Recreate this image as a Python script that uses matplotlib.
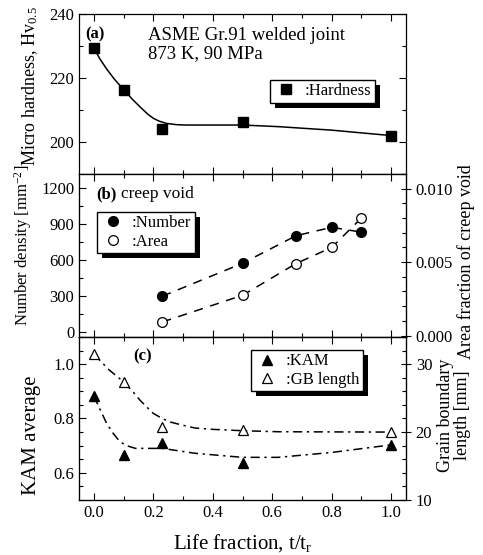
import numpy as np
import matplotlib
matplotlib.use('Agg')
import matplotlib.pyplot as plt
from matplotlib.ticker import MultipleLocator, FormatStrFormatter
from matplotlib.patches import Rectangle

plt.rcParams['font.family'] = 'Liberation Serif'
plt.rcParams['mathtext.fontset'] = 'custom'
plt.rcParams['mathtext.rm'] = 'Liberation Serif'
plt.rcParams['mathtext.it'] = 'Liberation Serif:italic'

# (a) hardness
hard_x = [0.0, 0.1, 0.23, 0.5, 1.0]
hard_y = [229.4, 216.3, 204.0, 206.2, 201.9]
hard_fit_x = [0.0, 0.02, 0.043, 0.07, 0.10, 0.13, 0.155, 0.18, 0.20, 0.22, 0.244, 0.28,
              0.31, 0.40, 0.50, 0.62, 0.80, 1.0]
hard_fit_y = [229.4, 226.0, 222.8, 219.5, 216.4, 213.3, 211.0, 208.8, 207.4, 206.5, 205.8,
              205.4, 205.3, 205.3, 205.3, 204.8, 203.7, 202.0]

# (b) creep void
void_x = [0.23, 0.5, 0.68, 0.8, 0.9]
number = [300, 575, 805, 875, 835]
area = [0.00092, 0.00274, 0.0049, 0.0060, 0.0080]

# (c) KAM and GB length
kam_x = [0.0, 0.1, 0.23, 0.5, 1.0]
kam = [0.883, 0.666, 0.709, 0.636, 0.703]
gb = [31.5, 27.4, 20.7, 20.3, 20.0]
kam_fit_x = [0.0, 0.02, 0.043, 0.065, 0.087, 0.11, 0.14, 0.23, 0.34, 0.5, 0.62, 0.8, 1.0]
kam_fit_y = [0.883, 0.835, 0.782, 0.745, 0.715, 0.70, 0.69, 0.69, 0.672, 0.657, 0.657,
             0.675, 0.703]
gb_fit_x = [0.0, 0.05, 0.1, 0.13, 0.155, 0.18, 0.2, 0.23, 0.255, 0.3, 0.34, 0.4, 0.5,
            0.62, 1.0]
gb_fit_y = [31.5, 29.2, 27.4, 26.0, 24.7, 23.6, 22.75, 22.0, 21.5, 21.0, 20.6, 20.4,
            20.2, 20.05, 20.0]

fig = plt.figure(figsize=(4.83, 5.55), dpi=100)
gs = fig.add_gridspec(3, 1, left=0.1636, right=0.8406, top=0.9748, bottom=0.0991,
                      hspace=0, height_ratios=[160, 163, 163])
ax1 = fig.add_subplot(gs[0])
ax2 = fig.add_subplot(gs[1], sharex=ax1)
ax3 = fig.add_subplot(gs[2], sharex=ax1)

fs_tick = 12
fs_lab = 13
fs_leg = 12
dashdot = (0, (6, 3, 1.5, 3))


def style(ax, right=True):
    ax.tick_params(which='both', direction='in', top=True, right=right, labelsize=fs_tick,
                   width=0.8)
    ax.tick_params(which='major', length=5)
    ax.tick_params(which='minor', length=3)
    for s in ax.spines.values():
        s.set_linewidth(0.9)


def style_right(ax):
    ax.tick_params(which='both', direction='in', labelsize=fs_tick, width=0.8)
    ax.tick_params(which='major', direction='inout', length=7)
    ax.tick_params(which='minor', length=3)


leg_kw = dict(fontsize=fs_leg, handletextpad=0.4, handlelength=1.5, borderpad=0.2,
              labelspacing=0.15, borderaxespad=0, fancybox=False, edgecolor='black',
              framealpha=1, loc='upper left')

# (a)
ax1.plot(hard_fit_x, hard_fit_y, '-', color='black', lw=1.1)
ax1.plot(hard_x, hard_y, 's', color='black', ms=6.5, label=':Hardness')
ax1.set_ylim(190, 240)
ax1.yaxis.set_major_locator(MultipleLocator(20))
ax1.yaxis.set_minor_locator(MultipleLocator(10))
ax1.set_ylabel('Micro hardness, Hv$_{0.5}$', fontsize=fs_lab, labelpad=7, y=0.55)
style(ax1)
ax1.tick_params(labelbottom=False)
ax1.text(0.018, 0.92, '(a)', transform=ax1.transAxes, fontsize=12, fontweight='bold', va='top')
ax1.text(0.21, 0.92, 'ASME Gr.91 welded joint\n873 K, 90 MPa', transform=ax1.transAxes,
         fontsize=13.5, va='top', linespacing=1.1)
leg1 = ax1.legend(bbox_to_anchor=(0.584, 0.5875), **leg_kw)

# (b)
ax2.plot(void_x, number, '--', color='black', lw=1.1, dashes=(6, 5))
ax2.plot(void_x, number, 'o', color='black', ms=7, label=':Number')
ax2b = ax2.twinx()
ax2b.plot(void_x, area, '--', color='black', lw=1.1, dashes=(6, 5))
ax2b.plot(void_x, area, 'o', mfc='white', mec='black', mew=0.9, ms=7, label=':Area')
ax2.set_ylim(-40, 1320)
ax2.yaxis.set_major_locator(MultipleLocator(300))
ax2.yaxis.set_minor_locator(MultipleLocator(150))
ax2b.set_ylim(-0.0001, 0.011)
ax2b.yaxis.set_major_locator(MultipleLocator(0.005))
ax2b.yaxis.set_minor_locator(MultipleLocator(0.001))
ax2b.yaxis.set_major_formatter(FormatStrFormatter('%.3f'))
ax2.set_ylabel('Number density [mm$^{-2}$]', fontsize=12, labelpad=5, y=0.56)
ax2b.set_ylabel('Area fraction of creep void', fontsize=fs_lab, labelpad=3, y=0.46)
style(ax2, right=False)
style_right(ax2b)
ax2.tick_params(labelbottom=False)
ax2.text(0.052, 0.925, '(b)', transform=ax2.transAxes, fontsize=12, fontweight='bold', va='top')
ax2.text(0.128, 0.925, 'creep void', transform=ax2.transAxes, fontsize=12.5, va='top')
h1, l1 = ax2.get_legend_handles_labels()
h2, l2 = ax2b.get_legend_handles_labels()
leg2 = ax2b.legend(h1 + h2, l1 + l2, bbox_to_anchor=(0.055, 0.767), **leg_kw)

# (c)
ax3.plot(kam_fit_x, kam_fit_y, color='black', lw=1.1, ls=dashdot)
ax3.plot(kam_x, kam, '^', color='black', ms=7.5, label=':KAM')
ax3b = ax3.twinx()
ax3b.plot(gb_fit_x, gb_fit_y, color='black', lw=1.1, ls=dashdot)
ax3b.plot(kam_x, gb, '^', mfc='white', mec='black', mew=0.9, ms=7.5, label=':GB length')
ax3.set_ylim(0.5, 1.1)
ax3.yaxis.set_major_locator(MultipleLocator(0.2))
ax3.yaxis.set_minor_locator(MultipleLocator(0.05))
ax3b.set_ylim(10, 34)
ax3b.yaxis.set_major_locator(MultipleLocator(10))
ax3b.yaxis.set_minor_locator(MultipleLocator(2))
ax3.set_xlim(-0.05, 1.05)
ax3.xaxis.set_major_locator(MultipleLocator(0.2))
ax3.xaxis.set_minor_locator(MultipleLocator(0.1))
ax3.xaxis.set_major_formatter(FormatStrFormatter('%.1f'))
ax3.set_ylabel('KAM average', fontsize=15, labelpad=9, y=0.4)
ax3b.set_ylabel('Grain boundary\nlength [mm]', fontsize=fs_lab, labelpad=3, linespacing=1.0,
                y=0.52)
ax3.set_xlabel('Life fraction, t/t$_\\mathrm{r}$', fontsize=15, labelpad=8)
style(ax3, right=False)
style_right(ax3b)
ax3.text(0.165, 0.93, '(c)', transform=ax3.transAxes, fontsize=12, fontweight='bold', va='top')
h1, l1 = ax3.get_legend_handles_labels()
h2, l2 = ax3b.get_legend_handles_labels()
leg3 = ax3b.legend(h1 + h2, l1 + l2, bbox_to_anchor=(0.526, 0.92), **leg_kw)

# solid black drop shadows under the legend boxes
fig.canvas.draw()
for ax, leg in [(ax1, leg1), (ax2b, leg2), (ax3b, leg3)]:
    bb = leg.get_frame().get_window_extent()
    inv = ax.transAxes.inverted()
    (x0, y0), (x1, y1) = inv.transform([(bb.x0 + 5, bb.y0 - 5), (bb.x1 + 5, bb.y1 - 5)])
    ax.add_patch(Rectangle((x0, y0), x1 - x0, y1 - y0, transform=ax.transAxes,
                           facecolor='black', edgecolor='none', zorder=4.9, clip_on=False))

fig.savefig('out.png', dpi=100)
